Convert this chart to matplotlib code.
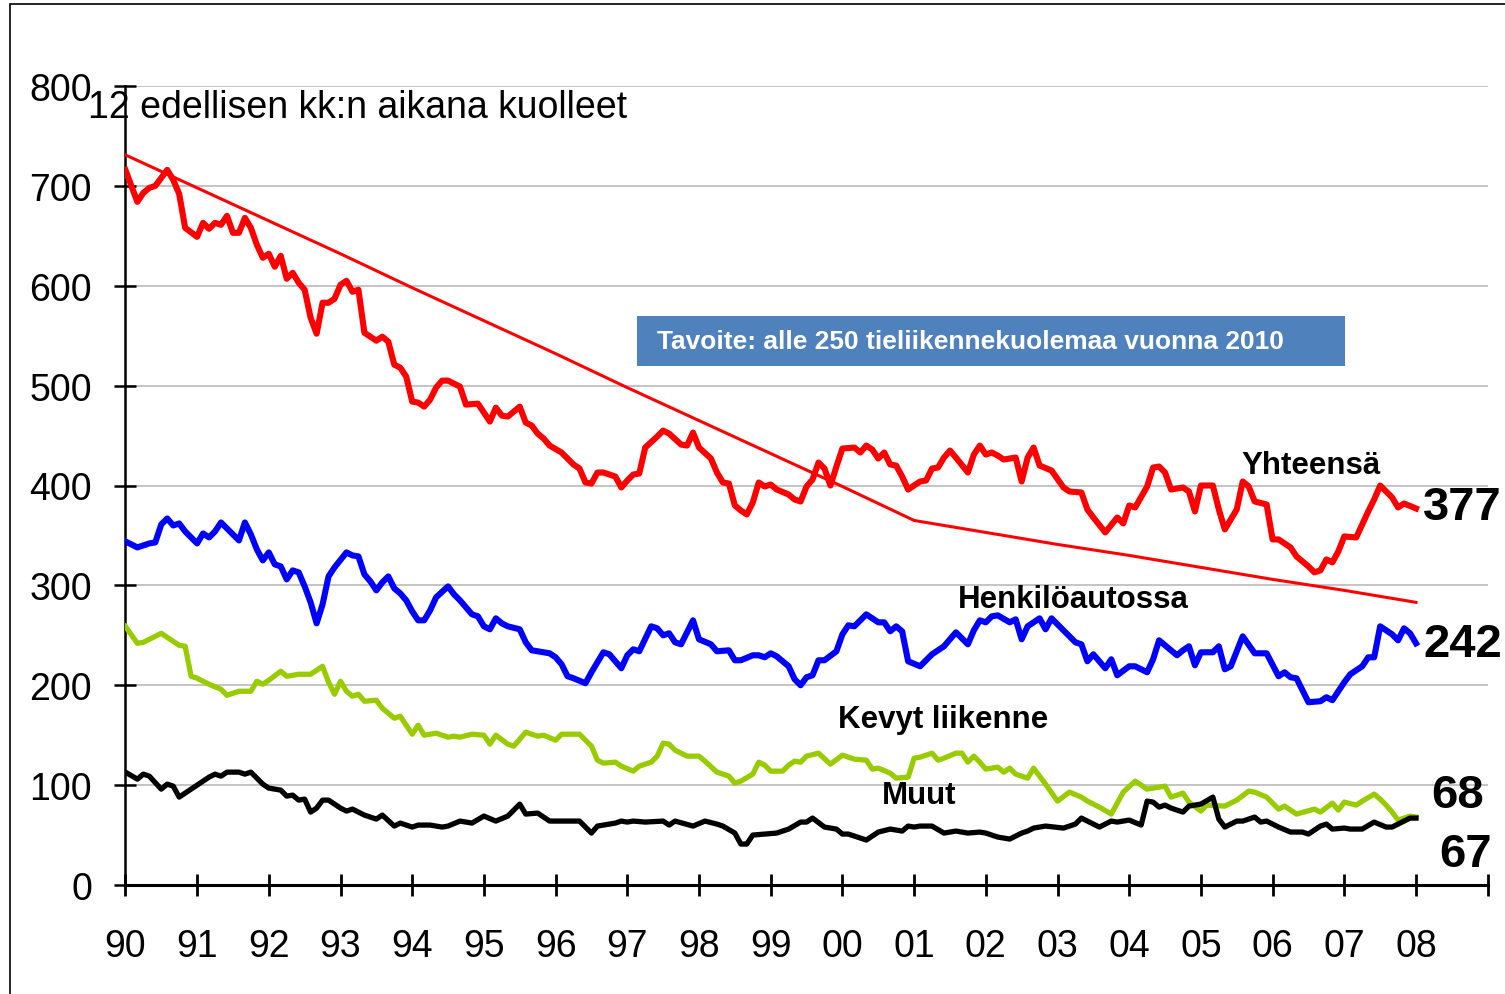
import numpy as np
import matplotlib
matplotlib.use("Agg")
import matplotlib.pyplot as plt
from matplotlib.patches import Rectangle

plt.rcParams['font.family'] = ['Liberation Sans', 'DejaVu Sans']

START_YEAR = 1990

# 12-month rolling sums of road deaths.
# x = months since January 1990
total_months = [0, 2, 3, 4, 5, 6, 7, 8, 9, 10,
                12, 13, 14, 15, 16, 17, 18, 19, 20, 21,
                22, 23, 24, 25, 26, 27, 28, 29, 30, 31,
                32, 33, 34, 35, 36, 37, 38, 39, 40, 42,
                43, 44, 45, 46, 47, 48, 49, 50, 51, 52,
                53, 54, 56, 57, 59, 61, 62, 63, 64, 66,
                67, 68, 69, 70, 71, 73, 75, 76, 77, 78,
                79, 80, 82, 83, 84, 85, 86, 87, 89, 90,
                91, 93, 94, 95, 96, 98, 99, 100, 101, 102,
                103, 104, 105, 106, 107, 108, 109, 111, 112, 113,
                114, 115, 116, 117, 118, 119, 120, 122, 123, 124,
                125, 126, 127, 128, 129, 130, 131, 133, 134, 135,
                136, 137, 138, 139, 141, 142, 143, 144, 145, 146,
                147, 149, 150, 151, 152, 153, 155, 157, 158, 160,
                161, 162, 164, 166, 167, 168, 169, 171, 172, 173,
                174, 175, 177, 178, 179, 180, 182, 183, 184, 186,
                187, 188, 189, 191, 192, 193, 195, 196, 198, 199,
                200, 201, 202, 203, 204, 206, 207, 208, 209, 210,
                212, 213, 214, 216]
total_vals = [716, 684, 693, 698, 700, 708, 716, 706, 692, 658,
              649, 663, 657, 663, 661, 670, 653, 653, 668, 658,
              641, 628, 632, 619, 630, 607, 613, 603, 596, 568,
              552, 583, 583, 587, 601, 605, 594, 596, 553, 545,
              549, 544, 521, 518, 509, 484, 483, 479, 486, 498,
              505, 505, 499, 481, 482, 464, 478, 470, 469, 479,
              463, 460, 452, 447, 440, 433, 421, 417, 403, 402,
              413, 413, 409, 398, 405, 411, 412, 438, 449, 455,
              452, 441, 440, 453, 438, 427, 413, 403, 402, 380,
              375, 371, 383, 403, 399, 401, 396, 391, 386, 384,
              399, 406, 423, 417, 400, 419, 437, 438, 433, 440,
              436, 427, 433, 421, 420, 409, 396, 404, 405, 417,
              418, 428, 435, 428, 413, 431, 440, 431, 433, 430,
              426, 428, 404, 428, 438, 420, 415, 398, 394, 393,
              376, 368, 353, 368, 362, 380, 378, 399, 418, 419,
              413, 396, 398, 394, 374, 400, 400, 376, 356, 376,
              404, 399, 384, 381, 346, 346, 338, 329, 319, 313,
              315, 326, 323, 334, 349, 348, 361, 374, 386, 400,
              388, 378, 382, 377]

car_months = [0, 2, 3, 4, 5, 6, 7, 8, 9, 10,
              12, 13, 14, 15, 16, 18, 19, 20, 21, 22,
              23, 24, 25, 26, 27, 28, 29, 30, 31, 32,
              33, 34, 35, 37, 38, 39, 40, 41, 42, 43,
              44, 45, 46, 47, 48, 49, 50, 51, 52, 54,
              55, 56, 57, 58, 59, 60, 61, 62, 63, 64,
              66, 67, 68, 70, 71, 72, 73, 74, 75, 77,
              78, 79, 80, 81, 83, 84, 85, 86, 88, 89,
              90, 91, 92, 93, 95, 96, 98, 99, 101, 102,
              103, 105, 106, 107, 108, 109, 111, 112, 113, 114,
              115, 116, 117, 119, 120, 121, 122, 124, 125, 126,
              127, 128, 129, 130, 131, 133, 135, 137, 139, 141,
              142, 143, 144, 145, 146, 148, 149, 150, 151, 153,
              154, 155, 158, 159, 160, 161, 162, 164, 165, 166,
              168, 169, 171, 172, 173, 175, 176, 177, 178, 179,
              180, 182, 183, 184, 185, 187, 189, 191, 193, 194,
              195, 196, 198, 200, 201, 202, 204, 205, 207, 208,
              209, 210, 212, 213, 214, 215, 216]
car_vals = [344, 338, 340, 342, 343, 361, 367, 360, 362, 354,
            342, 352, 348, 354, 363, 351, 345, 363, 351, 336,
            325, 333, 321, 319, 306, 315, 313, 299, 283, 262,
            281, 309, 318, 333, 330, 329, 311, 304, 295, 303,
            309, 297, 292, 285, 274, 265, 265, 275, 288, 299,
            291, 285, 278, 271, 269, 259, 256, 267, 262, 259,
            256, 243, 235, 233, 232, 228, 221, 209, 207, 202,
            213, 223, 233, 231, 217, 230, 236, 234, 259, 257,
            250, 252, 243, 241, 265, 246, 241, 234, 235, 225,
            225, 230, 230, 228, 232, 229, 219, 206, 200, 208,
            210, 225, 225, 234, 251, 260, 259, 271, 267, 263,
            263, 254, 259, 254, 224, 219, 231, 239, 253, 241,
            255, 265, 263, 269, 270, 263, 266, 246, 259, 267,
            256, 267, 249, 243, 241, 224, 231, 217, 226, 210,
            219, 219, 213, 226, 245, 235, 230, 235, 239, 220,
            233, 233, 239, 216, 219, 249, 232, 232, 209, 213,
            208, 207, 183, 184, 188, 185, 203, 211, 219, 228,
            228, 259, 251, 245, 257, 252, 242]

light_months = [0, 2, 3, 6, 9, 10, 11, 12, 14, 16,
                17, 19, 21, 22, 23, 24, 26, 27, 29, 31,
                33, 34, 35, 36, 37, 38, 39, 40, 42, 43,
                45, 46, 48, 49, 50, 52, 54, 55, 56, 58,
                60, 61, 62, 64, 65, 66, 67, 69, 70, 72,
                73, 76, 78, 79, 80, 82, 83, 85, 86, 88,
                89, 90, 91, 92, 94, 96, 97, 99, 101, 102,
                103, 105, 106, 107, 108, 110, 111, 112, 113, 114,
                116, 118, 120, 122, 124, 125, 126, 128, 129, 131,
                132, 133, 135, 136, 137, 139, 140, 141, 142, 143,
                144, 146, 147, 148, 149, 151, 152, 154, 156, 158,
                160, 161, 163, 165, 167, 169, 171, 174, 175, 177,
                178, 180, 181, 184, 186, 188, 189, 191, 193, 194,
                196, 199, 200, 202, 203, 204, 206, 207, 209, 210,
                211, 212, 213, 215, 216]
light_vals = [259, 242, 243, 252, 240, 239, 209, 207, 201, 196,
              190, 194, 194, 204, 201, 205, 214, 209, 211, 211,
              219, 203, 191, 204, 194, 189, 191, 184, 185, 177,
              167, 169, 151, 160, 150, 152, 148, 149, 148, 151,
              150, 141, 150, 141, 139, 146, 153, 149, 150, 145,
              151, 151, 139, 125, 122, 123, 119, 114, 119, 123,
              129, 142, 141, 135, 129, 129, 124, 113, 109, 102,
              104, 111, 123, 120, 114, 114, 120, 124, 123, 129,
              132, 121, 130, 126, 125, 116, 117, 112, 107, 108,
              127, 128, 132, 125, 127, 132, 132, 123, 129, 123,
              116, 118, 113, 117, 111, 107, 117, 101, 84, 93,
              88, 84, 78, 71, 93, 104, 96, 99, 88, 92,
              83, 74, 80, 79, 85, 94, 93, 88, 76, 79,
              71, 76, 73, 82, 75, 83, 80, 84, 91, 86,
              80, 73, 65, 69, 68]

other_months = [0, 2, 3, 4, 6, 7, 8, 9, 11, 13,
                14, 15, 16, 17, 19, 20, 21, 23, 24, 26,
                27, 28, 29, 30, 31, 32, 33, 34, 36, 37,
                38, 40, 42, 43, 45, 46, 48, 49, 51, 53,
                54, 56, 58, 60, 62, 64, 66, 67, 69, 71,
                73, 76, 78, 79, 81, 82, 83, 84, 85, 87,
                90, 91, 92, 95, 97, 99, 100, 102, 103, 104,
                105, 107, 109, 111, 113, 114, 115, 117, 119, 120,
                121, 122, 124, 125, 126, 128, 130, 131, 132, 133,
                135, 137, 139, 141, 143, 144, 146, 148, 150, 151,
                152, 154, 157, 159, 160, 163, 165, 166, 168, 170,
                171, 172, 173, 174, 175, 177, 178, 180, 182, 183,
                184, 186, 187, 189, 190, 191, 193, 195, 197, 198,
                200, 201, 202, 204, 205, 207, 209, 211, 212, 213,
                215, 216]
other_vals = [113, 106, 111, 109, 96, 101, 99, 88, 96, 104,
              108, 111, 109, 113, 113, 111, 113, 101, 97, 95,
              89, 90, 85, 86, 73, 77, 85, 85, 77, 74,
              76, 70, 66, 70, 59, 62, 58, 60, 60, 58,
              59, 64, 62, 69, 64, 69, 81, 71, 72, 64,
              64, 64, 52, 59, 61, 62, 64, 63, 64, 63,
              64, 60, 64, 59, 64, 61, 59, 52, 41, 41,
              50, 51, 52, 56, 63, 63, 67, 58, 56, 51,
              51, 49, 45, 49, 53, 56, 54, 59, 58, 59,
              59, 52, 54, 52, 53, 52, 48, 46, 52, 54,
              57, 59, 57, 61, 67, 58, 64, 63, 65, 60,
              84, 83, 78, 80, 77, 73, 79, 81, 88, 66,
              58, 64, 64, 68, 63, 64, 58, 53, 53, 51,
              59, 61, 56, 57, 56, 56, 63, 58, 58, 61,
              67, 67]

# target path towards < 250 deaths in 2010
target_years = list(range(1990, 2009))
target_vals = [731, 698, 665, 632, 598, 565, 532, 498, 465, 432,
               399, 365, 353, 341, 330, 318, 306, 295, 283]

year_ticks = list(range(1990, 2010))
year_labels = ["90", "91", "92", "93", "94", "95", "96", "97", "98", "99",
               "00", "01", "02", "03", "04", "05", "06", "07", "08", ""]
y_ticks = [0, 100, 200, 300, 400, 500, 600, 700, 800]


def to_year(months):
    return START_YEAR + np.asarray(months) / 12.0


def main():
    fig = plt.figure(figsize=(15.05, 9.95), dpi=100)
    ax = fig.add_axes([125.4 / 1505, 109 / 995, 1362.3 / 1505, 799 / 995])

    # thin outer frame of the original slide
    fig.patches.append(Rectangle((10 / 1505, -0.1), 1.2, 0.1 + 1 - 5 / 995,
                                 transform=fig.transFigure, fill=False,
                                 edgecolor='black', linewidth=1.2))

    ax.plot(to_year(light_months), light_vals, color='#99CC00', lw=3.8,
            solid_joinstyle='round', zorder=3)
    ax.plot(to_year(other_months), other_vals, color='black', lw=3.8,
            solid_joinstyle='round', zorder=4)
    ax.plot(to_year(car_months), car_vals, color='#0000FF', lw=4.4,
            solid_joinstyle='round', zorder=5)
    ax.plot(target_years, target_vals, color='#FF0000', lw=2.2, zorder=6)
    ax.plot(to_year(total_months), total_vals, color='#FF0000', lw=4.4,
            solid_joinstyle='round', zorder=7)

    ax.set_xlim(1990, 2009)
    ax.set_ylim(0, 800)
    ax.set_xticks(year_ticks)
    ax.set_xticklabels(year_labels)
    ax.set_yticks(y_ticks)

    ax.yaxis.grid(True, color='#BFBFBF', linewidth=1.3)
    ax.set_axisbelow(True)
    for s in ('top', 'right'):
        ax.spines[s].set_visible(False)
    ax.spines['left'].set_linewidth(1.8)
    ax.spines['bottom'].set_linewidth(2.2)
    ax.tick_params(axis='y', direction='inout', length=16, width=1.8,
                   labelsize=27, pad=16)
    ax.tick_params(axis='x', direction='inout', length=16, width=2.0,
                   labelsize=27, pad=23)

    fig.text(88 / 1505, 1 - 108 / 995, "12 edellisen kk:n aikana kuolleet",
             fontsize=27, ha='left', va='center')

    # goal box
    ax.add_patch(Rectangle((1997.135, 520), 9.875, 50, facecolor='#4F81BD',
                           edgecolor='none', zorder=8))
    ax.text(1997.41, 545, "Tavoite: alle 250 tieliikennekuolemaa vuonna 2010",
            color='white', fontsize=19, fontweight='bold', ha='left',
            va='center', zorder=9)

    lab = dict(fontsize=22.5, fontweight='bold', va='center', ha='left', zorder=9)
    ax.text(2005.57, 421, "Yhteensä", **lab)
    ax.text(2001.61, 286, "Henkilöautossa", **lab)
    ax.text(1999.94, 166, "Kevyt liikenne", **lab)
    ax.text(2000.55, 90, "Muut", **lab)

    big = dict(fontsize=34, fontweight='bold', va='center', zorder=9)
    ax.text(2008.10, 378, str(total_vals[-1]), ha='left', **big)
    ax.text(2008.10, 241, str(car_vals[-1]), ha='left', **big)
    ax.text(2008.95, 90, str(light_vals[-1]), ha='right', **big)
    ax.text(2009.06, 31, str(other_vals[-1]), ha='right', **big)

    fig.savefig("out.png", dpi=100)
    plt.close(fig)


if __name__ == "__main__":
    main()
